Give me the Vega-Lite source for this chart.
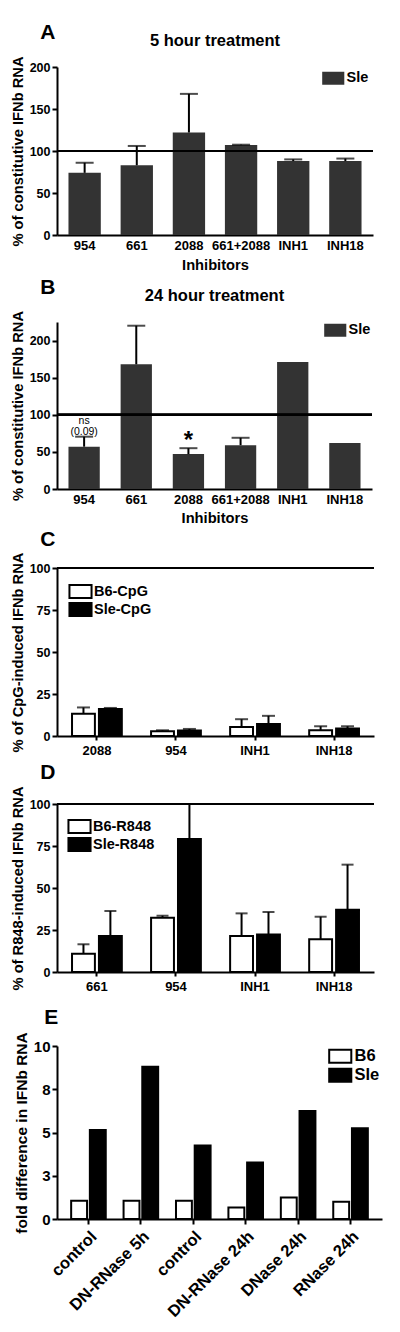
{
  "$schema": "https://vega.github.io/schema/vega-lite/v6.json",
  "padding": {"left": 10, "top": 22, "right": 5, "bottom": 5},
  "spacing": 4,
  "resolve": {"scale": {"x": "independent", "y": "independent", "xOffset": "independent", "fill": "independent"}, "legend": {"fill": "independent"}},
  "config": {
    "font": "Liberation Sans",
    "view": {"stroke": null},
    "axis": {"domainColor": "black", "domainWidth": 2, "tickColor": "black", "tickWidth": 2, "tickSize": 5, "labelColor": "black", "labelFontWeight": "bold", "labelFontSize": 12.5, "titleColor": "black", "titleFontWeight": "bold", "titleFontSize": 14.7, "grid": false, "labelPadding": 2},
    "axisX": {"labelAngle": 0, "labelFontSize": 13, "labelPadding": 4},
    "legend": {"title": null, "symbolType": "M-1.7,-1H1.7V1H-1.7Z", "symbolSize": 169, "labelFontSize": 14.5, "labelFontWeight": "bold", "labelColor": "black", "labelOffset": 6, "rowPadding": -3},
    "title": {"color": "black", "fontWeight": "bold"}
  },
  "vconcat": [
    {
      "title": {"text": "A", "anchor": "start", "fontSize": 21, "dx": 30, "dy": 14},
      "resolve": {"legend": {"fill": "independent"}},
      "vconcat": [
        {
          "width": 316, "height": 168,
          "title": {"text": "5 hour treatment", "fontSize": 16.5, "offset": 6},
          "data": {"values": [
            {"inh": "954", "strain": "Sle", "v": 74, "e": 86},
            {"inh": "661", "strain": "Sle", "v": 83, "e": 106},
            {"inh": "2088", "strain": "Sle", "v": 122, "e": 168},
            {"inh": "661+2088", "strain": "Sle", "v": 107, "e": 107.5},
            {"inh": "INH1", "strain": "Sle", "v": 88, "e": 90},
            {"inh": "INH18", "strain": "Sle", "v": 88, "e": 91}
          ]},
          "encoding": {
            "x": {"field": "inh", "type": "nominal", "sort": null, "title": "Inhibitors", "scale": {"paddingInner": 0.38, "paddingOuter": 0.22}, "axis": {"ticks": false, "titlePadding": 5}}
          },
          "layer": [
            {"mark": {"type": "bar"}, "encoding": {
              "y": {"field": "v", "type": "quantitative", "scale": {"domain": [0, 200], "nice": false}, "title": "% of constitutive IFNb RNA", "axis": {"values": [0, 50, 100, 150, 200]}},
              "fill": {"field": "strain", "type": "nominal", "scale": {"domain": ["Sle"], "range": ["#333333"]}, "legend": {"orient": "top-right", "offset": 4, "symbolStrokeWidth": 0}}
            }},
            {"mark": {"type": "rule", "strokeWidth": 2, "color": "black"}, "encoding": {"y": {"field": "v", "type": "quantitative"}, "y2": {"field": "e"}}},
            {"mark": {"type": "tick", "thickness": 2, "size": 18, "color": "black"}, "encoding": {"y": {"field": "e", "type": "quantitative"}}},
            {"mark": {"type": "rule", "strokeWidth": 2, "color": "black"}, "encoding": {"x": null, "y": {"datum": 100}}}
          ]
        }
      ]
    },
    {
      "title": {"text": "B", "anchor": "start", "fontSize": 21, "dx": 30, "dy": 14},
      "resolve": {"legend": {"fill": "independent"}},
      "vconcat": [
        {
          "width": 315, "height": 167,
          "title": {"text": "24 hour treatment", "fontSize": 16.5, "offset": 6},
          "data": {"values": [
            {"inh": "954", "strain": "Sle", "v": 57, "e": 70.5, "note": "ns\n(0.09)"},
            {"inh": "661", "strain": "Sle", "v": 168, "e": 220},
            {"inh": "2088", "strain": "Sle", "v": 47, "e": 55, "star": "*"},
            {"inh": "661+2088", "strain": "Sle", "v": 59, "e": 69},
            {"inh": "INH1", "strain": "Sle", "v": 171},
            {"inh": "INH18", "strain": "Sle", "v": 62}
          ]},
          "encoding": {
            "x": {"field": "inh", "type": "nominal", "sort": null, "title": "Inhibitors", "scale": {"paddingInner": 0.4, "paddingOuter": 0.22}, "axis": {"ticks": false, "titlePadding": 4}}
          },
          "layer": [
            {"mark": {"type": "bar"}, "encoding": {
              "y": {"field": "v", "type": "quantitative", "scale": {"domain": [0, 225], "nice": false}, "title": "% of constitutive IFNb RNA", "axis": {"values": [0, 25, 50, 75, 100, 125, 150, 175, 200, 225]}},
              "fill": {"field": "strain", "type": "nominal", "scale": {"domain": ["Sle"], "range": ["#333333"]}, "legend": {"orient": "top-right", "offset": 1, "symbolStrokeWidth": 0}}
            }},
            {"transform": [{"filter": "isValid(datum.e)"}], "mark": {"type": "rule", "strokeWidth": 2, "color": "black"}, "encoding": {"y": {"field": "v", "type": "quantitative"}, "y2": {"field": "e"}}},
            {"transform": [{"filter": "isValid(datum.e)"}], "mark": {"type": "tick", "thickness": 2, "size": 18, "color": "black"}, "encoding": {"y": {"field": "e", "type": "quantitative"}}},
            {"transform": [{"filter": "isValid(datum.note)"}], "mark": {"type": "text", "fontSize": 10.5, "lineBreak": "\n", "lineHeight": 11, "baseline": "bottom", "dy": -11, "color": "black"}, "encoding": {"y": {"field": "e", "type": "quantitative"}, "text": {"field": "note"}}},
            {"transform": [{"filter": "isValid(datum.star)"}], "mark": {"type": "text", "fontSize": 24, "fontWeight": "bold", "baseline": "alphabetic", "dy": 0, "color": "black"}, "encoding": {"y": {"field": "e", "type": "quantitative"}, "text": {"field": "star"}}},
            {"mark": {"type": "rule", "strokeWidth": 2, "color": "black"}, "encoding": {"x": null, "y": {"datum": 100}}}
          ]
        }
      ]
    },
    {
      "width": 317, "height": 168,
      "title": {"text": "C", "anchor": "start", "fontSize": 21, "dx": 30, "offset": 2},
      "data": {"values": [
        {"g": "2088", "s": "B6-CpG", "v": 13.3, "e": 17},
        {"g": "2088", "s": "Sle-CpG", "v": 16, "e": 16.7},
        {"g": "954", "s": "B6-CpG", "v": 2.8, "e": 3.4},
        {"g": "954", "s": "Sle-CpG", "v": 3.2, "e": 4.2},
        {"g": "INH1", "s": "B6-CpG", "v": 5.4, "e": 10},
        {"g": "INH1", "s": "Sle-CpG", "v": 7.2, "e": 12},
        {"g": "INH18", "s": "B6-CpG", "v": 3.4, "e": 5.8},
        {"g": "INH18", "s": "Sle-CpG", "v": 4.4, "e": 5.8}
      ]},
      "encoding": {
        "x": {"field": "g", "type": "nominal", "sort": null, "title": null, "scale": {"paddingInner": 0.37, "paddingOuter": 0.19}, "axis": {"ticks": true, "tickSize": 4}},
        "xOffset": {"field": "s", "type": "nominal", "sort": null, "scale": {"paddingInner": 0.15}}
      },
      "layer": [
        {"mark": {"type": "bar", "stroke": "black", "strokeWidth": 2}, "encoding": {
          "y": {"field": "v", "type": "quantitative", "scale": {"domain": [0, 100], "nice": false}, "title": "% of CpG-induced IFNb RNA", "axis": {"values": [0, 25, 50, 75, 100]}},
          "fill": {"field": "s", "type": "nominal", "scale": {"domain": ["B6-CpG", "Sle-CpG"], "range": ["white", "black"]}, "legend": {"orient": "top-left", "offset": 16, "symbolStrokeColor": "black", "symbolStrokeWidth": 2}}
        }},
        {"mark": {"type": "rule", "strokeWidth": 2, "color": "black"}, "encoding": {"y": {"field": "v", "type": "quantitative"}, "y2": {"field": "e"}}},
        {"mark": {"type": "tick", "thickness": 2, "size": 13, "color": "black"}, "encoding": {"y": {"field": "e", "type": "quantitative"}}},
        {"mark": {"type": "rule", "strokeWidth": 2, "color": "black"}, "encoding": {"x": null, "xOffset": null, "y": {"datum": 100}}}
      ]
    },
    {
      "width": 317, "height": 168,
      "title": {"text": "D", "anchor": "start", "fontSize": 21, "dx": 30, "offset": 3},
      "data": {"values": [
        {"g": "661", "s": "B6-R848", "v": 10.8, "e": 16.5},
        {"g": "661", "s": "Sle-R848", "v": 21.5, "e": 36.3},
        {"g": "954", "s": "B6-R848", "v": 32.3, "e": 33.5},
        {"g": "954", "s": "Sle-R848", "v": 79.1, "e": 100},
        {"g": "INH1", "s": "B6-R848", "v": 21.5, "e": 34.9},
        {"g": "INH1", "s": "Sle-R848", "v": 22.3, "e": 35.7},
        {"g": "INH18", "s": "B6-R848", "v": 19.5, "e": 32.9},
        {"g": "INH18", "s": "Sle-R848", "v": 37.1, "e": 63.9}
      ]},
      "encoding": {
        "x": {"field": "g", "type": "nominal", "sort": null, "title": null, "scale": {"paddingInner": 0.37, "paddingOuter": 0.19}, "axis": {"ticks": true, "tickSize": 4, "minExtent": 30}},
        "xOffset": {"field": "s", "type": "nominal", "sort": null, "scale": {"paddingInner": 0.15}}
      },
      "layer": [
        {"mark": {"type": "bar", "stroke": "black", "strokeWidth": 2}, "encoding": {
          "y": {"field": "v", "type": "quantitative", "scale": {"domain": [0, 100], "nice": false}, "title": "% of R848-induced IFNb RNA", "axis": {"values": [0, 25, 50, 75, 100]}},
          "fill": {"field": "s", "type": "nominal", "scale": {"domain": ["B6-R848", "Sle-R848"], "range": ["white", "black"]}, "legend": {"orient": "top-left", "offset": 15, "symbolStrokeColor": "black", "symbolStrokeWidth": 2}}
        }},
        {"mark": {"type": "rule", "strokeWidth": 2, "color": "black"}, "encoding": {"y": {"field": "v", "type": "quantitative"}, "y2": {"field": "e"}}},
        {"mark": {"type": "tick", "thickness": 2, "size": 12, "color": "black"}, "encoding": {"y": {"field": "e", "type": "quantitative"}}},
        {"mark": {"type": "rule", "strokeWidth": 2, "color": "black"}, "encoding": {"x": null, "xOffset": null, "y": {"datum": 100}}}
      ]
    },
    {
      "width": 325, "height": 173,
      "title": {"text": "E", "anchor": "start", "fontSize": 21, "dx": 30, "offset": 4},
      "data": {"values": [
        {"c": "control", "s": "B6", "v": 1.06},
        {"c": "control", "s": "Sle", "v": 5.15},
        {"c": "DN-RNase 5h", "s": "B6", "v": 1.06},
        {"c": "DN-RNase 5h", "s": "Sle", "v": 8.8},
        {"c": "control ", "s": "B6", "v": 1.06},
        {"c": "control ", "s": "Sle", "v": 4.25},
        {"c": "DN-RNase 24h", "s": "B6", "v": 0.67},
        {"c": "DN-RNase 24h", "s": "Sle", "v": 3.27},
        {"c": "DNase 24h", "s": "B6", "v": 1.25},
        {"c": "DNase 24h", "s": "Sle", "v": 6.25},
        {"c": "RNase 24h", "s": "B6", "v": 1.0},
        {"c": "RNase 24h", "s": "Sle", "v": 5.25}
      ]},
      "mark": {"type": "bar", "stroke": "black", "strokeWidth": 2},
      "encoding": {
        "x": {"field": "c", "type": "nominal", "sort": null, "title": null, "scale": {"paddingInner": 0.34, "paddingOuter": 0.27}, "axis": {"ticks": true, "tickSize": 5, "labelAngle": -45, "labelFontSize": 16.5}},
        "xOffset": {"field": "s", "type": "nominal", "sort": null, "scale": {"paddingInner": 0.15}},
        "y": {"field": "v", "type": "quantitative", "scale": {"domain": [0, 10], "nice": false}, "title": "fold difference in IFNb RNA", "axis": {"values": [0, 2.5, 5, 7.5, 10], "labelExpr": "format(round(datum.value), 'd')", "labelFontSize": 15, "titleFontSize": 15.5}},
        "fill": {"field": "s", "type": "nominal", "scale": {"domain": ["B6", "Sle"], "range": ["white", "black"]}, "legend": {"orient": "top-right", "offset": 2, "labelFontSize": 16.5, "rowPadding": -9, "symbolStrokeColor": "black", "symbolStrokeWidth": 2}}
      }
    }
  ]
}
